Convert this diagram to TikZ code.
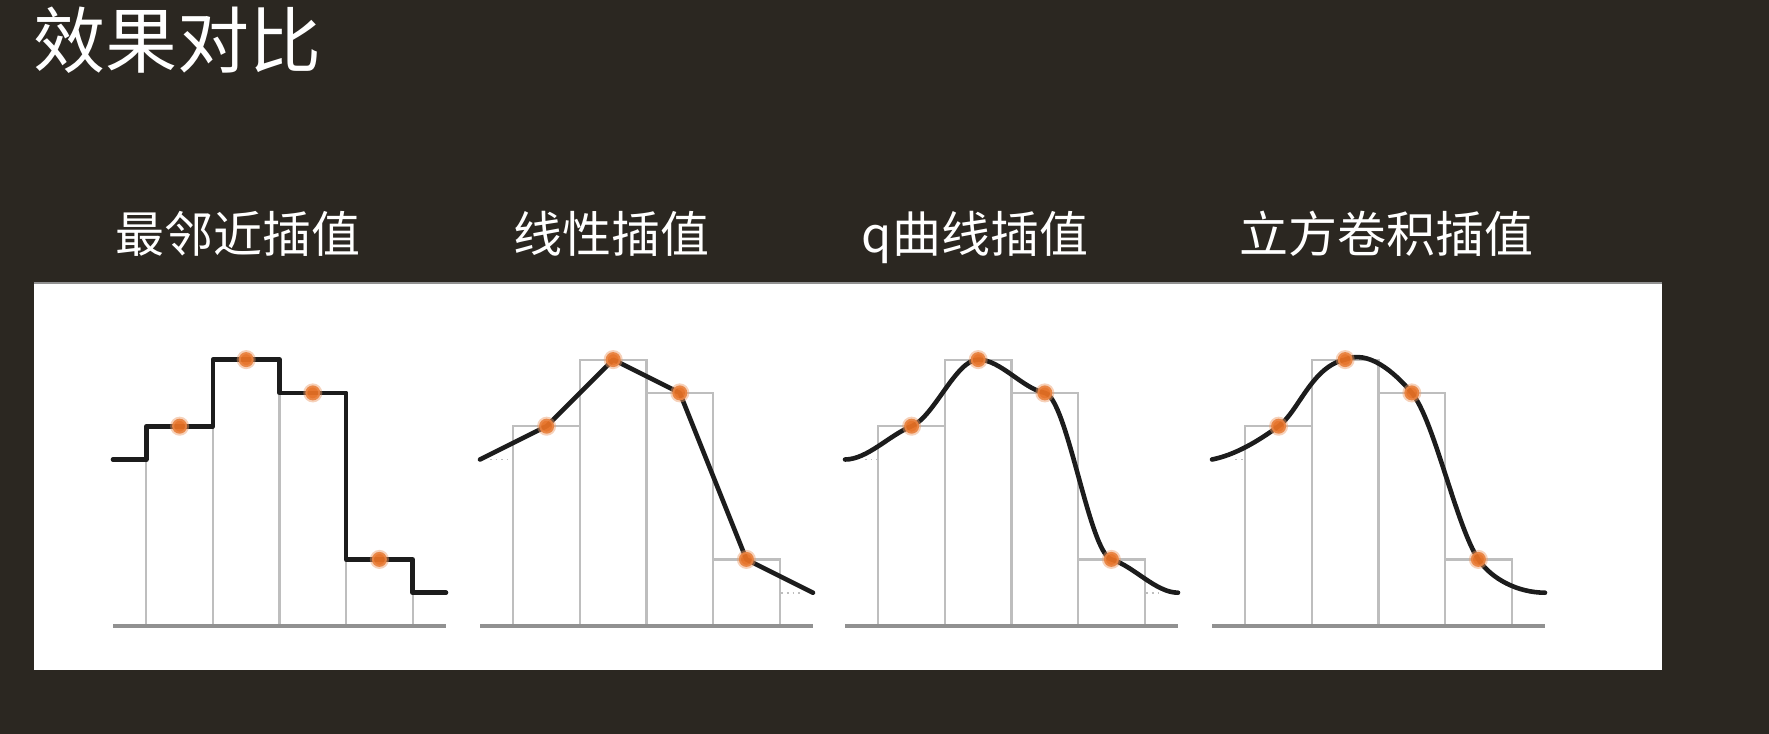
\documentclass[tikz,border=0pt]{standalone}
\usepackage{fontspec}
\newfontfamily\cjk{Noto Sans CJK SC}
\definecolor{bgdark}{RGB}{43,39,33}
\definecolor{dotorange}{RGB}{230,112,36}
\definecolor{bargray}{RGB}{190,190,190}
\definecolor{axisgray}{RGB}{145,145,145}
\definecolor{curveblack}{RGB}{28,28,28}
\tikzset{
  heading/.style={font=\cjk\fontsize{36}{40}\selectfont, text=white, inner sep=0pt},
  subheading/.style={font=\cjk\fontsize{24.5}{28}\selectfont, text=white, inner sep=0pt, anchor=base},
  panel/.style={shift={(#1,626)}, x=16.65pt, y=16.65pt},
  bar/.style={draw=bargray, line width=1.1pt},
  axisline/.style={draw=axisgray, line width=1.6pt},
  ghost/.style={draw=bargray, line width=0.8pt, dotted},
  interp/.style={draw=curveblack, line width=2.3pt, line join=round, line cap=round},
  sample/.style={circle, fill=dotorange, fill opacity=0.95, draw=dotorange!70, draw opacity=0.45, line width=2pt, minimum size=7.5pt, inner sep=0pt}
}

\begin{document}
\begin{tikzpicture}[x=0.5pt,y=-0.5pt]
  \useasboundingbox (0,0) rectangle (1769,734);
  \fill[bgdark] (0,0) rectangle (1769,734);
  \fill[white] (34,283) rectangle (1662,670);
  \draw[axisgray, line width=0.8pt] (34,283) -- (1662,283);

  % Titles
  \node[heading, anchor=base west] (title) at (33,67) {效果对比};
  \node[subheading] (nearest) at (238,252) {最邻近插值};
  \node[subheading] (linear) at (611,252) {线性插值};
  \node[subheading] (qcurve) at (975,252) {q曲线插值};
  \node[subheading] (cubic) at (1386,252) {立方卷积插值};

  % bars and axis of every panel
  \foreach \px in {113,480,845,1212}{
    \begin{scope}[panel=\px]
      \draw[bar] (1,0) rectangle (3,6);
      \draw[bar] (3,0) rectangle (5,8);
      \draw[bar] (5,0) rectangle (7,7);
      \draw[bar] (7,0) rectangle (9,2);
      \draw[axisline] (0,0) -- (10,0);
    \end{scope}
  }

  % nearest neighbour
  \begin{scope}[panel=113]
    \draw[interp] (0,5) -| (1,6) -| (3,8) -| (5,7) -| (7,2) -| (9,1) -- (10,1);
    \node[sample] (n1) at (2,6) {};
    \node[sample] (n2) at (4,8) {};
    \node[sample] (n3) at (6,7) {};
    \node[sample] (n4) at (8,2) {};
  \end{scope}

  % linear
  \begin{scope}[panel=480]
    \draw[ghost] (0.3,5) -- (0.95,5);
    \draw[ghost] (9.05,1) -- (9.7,1);
    \draw[interp] (0,5) -- (2,6) -- (4,8) -- (6,7) -- (8,2) -- (10,1);
    \node[sample] (l1) at (2,6) {};
    \node[sample] (l2) at (4,8) {};
    \node[sample] (l3) at (6,7) {};
    \node[sample] (l4) at (8,2) {};
  \end{scope}

  % q curve
  \begin{scope}[panel=845]
    \draw[ghost] (0.6,5) -- (0.95,5);
    \draw[ghost] (9.05,1) -- (9.4,1);
    \draw[interp] (0,5) .. controls (0.667,5) and (1.333,5.733) .. (2,6)
      .. controls (2.667,6.267) and (3.333,8) .. (4,8)
      .. controls (4.667,8) and (5.333,7.133) .. (6,7)
      .. controls (6.667,6.867) and (7.333,2.2) .. (8,2)
      .. controls (8.667,1.8) and (9.333,1) .. (10,1);
    \node[sample] (q1) at (2,6) {};
    \node[sample] (q2) at (4,8) {};
    \node[sample] (q3) at (6,7) {};
    \node[sample] (q4) at (8,2) {};
  \end{scope}

  % cubic convolution
  \begin{scope}[panel=1212]
    \draw[ghost] (0.7,5) -- (0.95,5);
    \draw[interp] (0,5) .. controls (0.667,5.133) and (1.333,5.513) .. (2,6)
      .. controls (2.6,6.44) and (3,7.8) .. (4,8)
      .. controls (4.667,8.3) and (5.45,7.66) .. (6,7)
      .. controls (6.667,6.2) and (7.333,3) .. (8,2)
      .. controls (8.4,1.4) and (9.2,1) .. (10,1);
    \node[sample] (c1) at (2,6) {};
    \node[sample] (c2) at (4,8) {};
    \node[sample] (c3) at (6,7) {};
    \node[sample] (c4) at (8,2) {};
  \end{scope}
\end{tikzpicture}
\end{document}
